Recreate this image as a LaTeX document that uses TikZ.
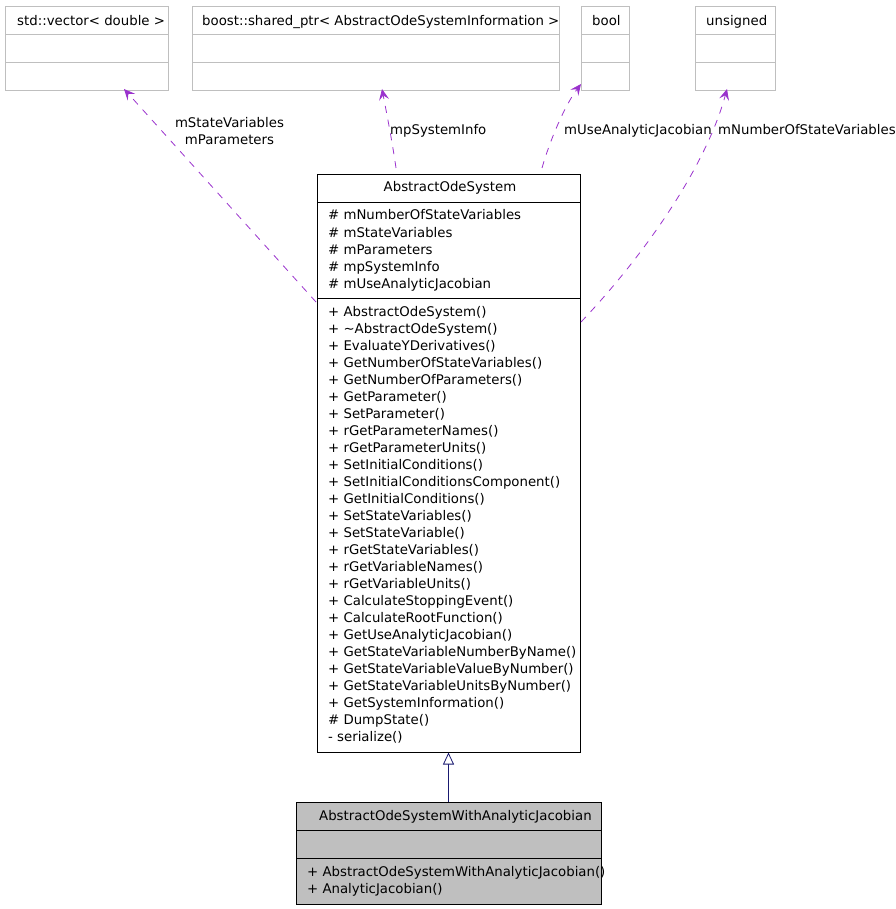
\documentclass[tikz,border=0pt]{standalone}
\usepackage{fontspec}
\setmainfont{DejaVu Sans}
\usetikzlibrary{arrows.meta}
\definecolor{boxgray}{HTML}{BFBFBF}
\definecolor{fillgray}{HTML}{BFBFBF}
\definecolor{depcol}{HTML}{9A32CD}
\definecolor{inhcol}{HTML}{191970}
\begin{document}
\begin{tikzpicture}[x=1pt,y=-1pt,
  txt/.style={font=\fontsize{13.3}{17}\selectfont, inner sep=0pt, anchor=base west},
  ctxt/.style={font=\fontsize{13.3}{17}\selectfont, inner sep=0pt, anchor=base},
  extbox/.style={draw=boxgray, line width=0.8pt, inner sep=0pt, anchor=north west},
  clsbox/.style={draw=black, line width=0.8pt, inner sep=0pt, anchor=north west},
  grayline/.style={draw=boxgray, line width=0.8pt},
  blackline/.style={draw=black, line width=0.8pt},
  dep/.style={draw=depcol, line width=0.8pt, dash pattern=on 7pt off 7pt,
    -{Stealth[length=11pt,width=10pt,inset=4.5pt,fill=depcol,line width=0.8pt]}},
  inh/.style={draw=inhcol, line width=0.8pt,
    -{Triangle[open,length=12pt,width=11pt,fill=white]}}
]
\useasboundingbox (0,0) rectangle (895,909);

% external type boxes
\node[extbox, minimum width=163pt, minimum height=84pt] (vec) at (5,6) {};
\draw[grayline] (5,34) -- (168,34) (5,62) -- (168,62);
\node[txt] (vect) at (17,25.5) {std::vector< double >};

\node[extbox, minimum width=367pt, minimum height=84pt] (sp) at (192,6) {};
\draw[grayline] (192,34) -- (559,34) (192,62) -- (559,62);
\node[txt] (spt) at (202,25.5) {boost::shared\_ptr< AbstractOdeSystemInformation >};

\node[extbox, minimum width=48pt, minimum height=84pt] (bool) at (581,6) {};
\draw[grayline] (581,34) -- (629,34) (581,62) -- (629,62);
\node[txt] (boolt) at (592,25.5) {bool};

\node[extbox, minimum width=80pt, minimum height=84pt] (uns) at (695,6) {};
\draw[grayline] (695,34) -- (775,34) (695,62) -- (775,62);
\node[txt] (unst) at (706,25.5) {unsigned};

% AbstractOdeSystem
\node[clsbox, minimum width=263pt, minimum height=578pt] (aos) at (317,174) {};
\draw[blackline] (317,202) -- (580,202) (317,298) -- (580,298);
\node[ctxt] (aost) at (450,192) {AbstractOdeSystem};
\foreach \t [count=\i] in {\# mNumberOfStateVariables, \# mStateVariables, \# mParameters, \# mpSystemInfo, \# mUseAnalyticJacobian}
  \node[txt] (attr\i) at (328,{220+17*(\i-1)}) {\t};
\foreach \t [count=\i] in {+ AbstractOdeSystem(), + \textasciitilde AbstractOdeSystem(), + EvaluateYDerivatives(), + GetNumberOfStateVariables(), + GetNumberOfParameters(), + GetParameter(), + SetParameter(), + rGetParameterNames(), + rGetParameterUnits(), + SetInitialConditions(), + SetInitialConditionsComponent(), + GetInitialConditions(), + SetStateVariables(), + SetStateVariable(), + rGetStateVariables(), + rGetVariableNames(), + rGetVariableUnits(), + CalculateStoppingEvent(), + CalculateRootFunction(), + GetUseAnalyticJacobian(), + GetStateVariableNumberByName(), + GetStateVariableValueByNumber(), + GetStateVariableUnitsByNumber(), + GetSystemInformation(), \# DumpState(), - serialize()}
  \node[txt] (meth\i) at (328,{316+17*(\i-1)}) {\t};

% AbstractOdeSystemWithAnalyticJacobian
\node[clsbox, fill=fillgray, minimum width=305pt, minimum height=102pt] (aosj) at (296,802) {};
\draw[blackline] (296,830) -- (601,830) (296,858) -- (601,858);
\node[txt] (aosjt) at (319,820.5) {AbstractOdeSystemWithAnalyticJacobian};
\node[txt] (aosjm1) at (307,876.5) {+ AbstractOdeSystemWithAnalyticJacobian()};
\node[txt] (aosjm2) at (307,893) {+ AnalyticJacobian()};

% inheritance
\coordinate (inhS) at (448.5,802);
\coordinate (inhE) at (448.5,752.5);
\draw[inh] (inhS) -- (inhE);

% dependency connectors
\coordinate (d1s) at (316,302);
\coordinate (d1e) at (124,89);
\draw[dep] (d1s) -- (d1e);
\node[ctxt] (l1a) at (229.5,127.5) {mStateVariables};
\node[ctxt] (l1b) at (229.5,144.5) {mParameters};

\coordinate (d2s) at (396,168);
\coordinate (d2e) at (382,89);
\draw[dep] (d2s) .. controls (392,140) and (386,110) .. (d2e);
\node[txt] (l2) at (390,135) {mpSystemInfo};

\coordinate (d3s) at (542,168);
\coordinate (d3e) at (581,84);
\draw[dep] (d3s) .. controls (550,140) and (565,105) .. (d3e);
\node[txt] (l3) at (564,135) {mUseAnalyticJacobian};

\coordinate (d4s) at (581,322);
\coordinate (d4e) at (727,89);
\draw[dep] (d4s) .. controls (640,260) and (705,170) .. (d4e);
\node[txt] (l4) at (718,135) {mNumberOfStateVariables};
\end{tikzpicture}
\end{document}
